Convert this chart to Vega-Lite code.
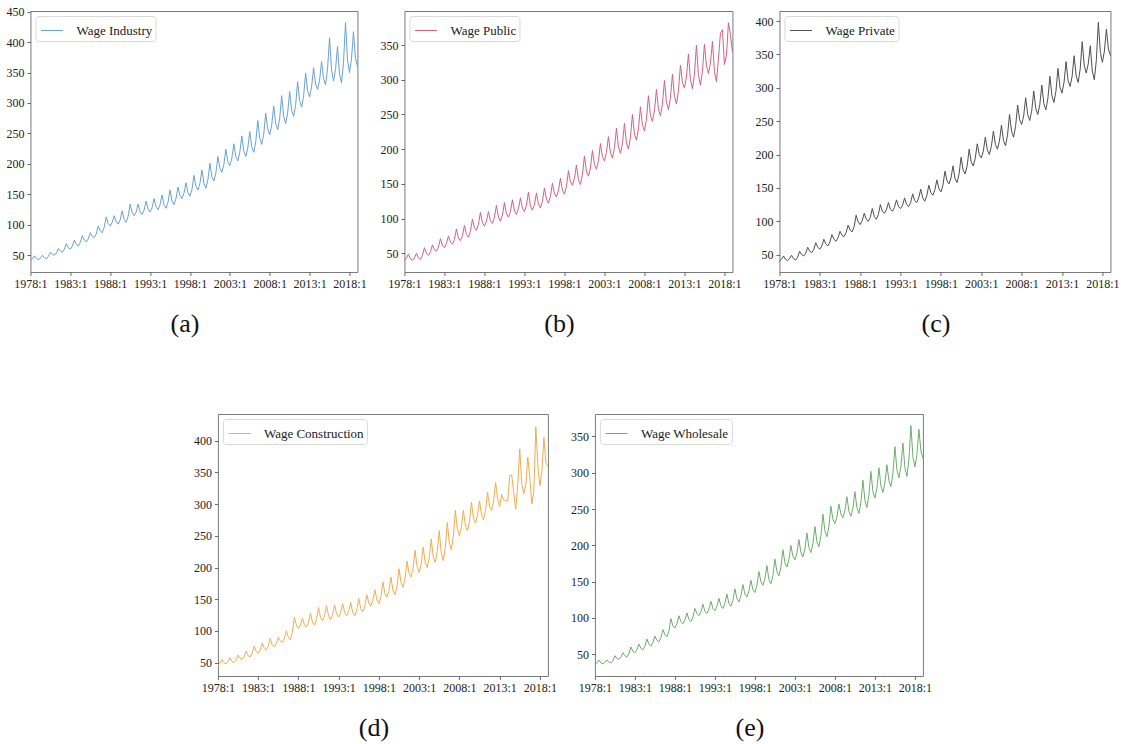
{
"$schema": "https://vega.github.io/schema/vega-lite/v6.json",
"padding": {"left": 5, "top": 5, "right": 5, "bottom": 5},
"background": "white",
"datasets": {"w": [
{"t":1978,"a":42,"b":40,"c":40,"d":46,"e":36},{"t":1978.25,"a":44,"b":43,"c":43,"d":49,"e":38},{"t":1978.5,"a":49,"b":49,"c":48,"d":55,"e":42},{"t":1978.75,"a":45,"b":42,"c":43,"d":50,"e":38},
{"t":1979,"a":43,"b":40,"c":41,"d":48,"e":37},{"t":1979.25,"a":45,"b":43,"c":44,"d":51,"e":39},{"t":1979.5,"a":50,"b":50,"c":49,"d":58,"e":42},{"t":1979.75,"a":46,"b":43,"c":44,"d":52,"e":39},
{"t":1980,"a":44,"b":41,"c":42,"d":50,"e":38},{"t":1980.25,"a":48,"b":47,"c":46,"d":54,"e":41},{"t":1980.5,"a":55,"b":58,"c":55,"d":62,"e":48},{"t":1980.75,"a":51,"b":50,"c":50,"d":57,"e":44},
{"t":1981,"a":50,"b":47,"c":48,"d":55,"e":43},{"t":1981.25,"a":54,"b":52,"c":52,"d":59,"e":46},{"t":1981.5,"a":61,"b":62,"c":61,"d":68,"e":52},{"t":1981.75,"a":57,"b":55,"c":55,"d":61,"e":48},
{"t":1982,"a":55,"b":53,"c":53,"d":59,"e":46},{"t":1982.25,"a":60,"b":59,"c":58,"d":65,"e":51},{"t":1982.5,"a":69,"b":71,"c":68,"d":76,"e":60},{"t":1982.75,"a":62,"b":61,"c":61,"d":68,"e":54},
{"t":1983,"a":60,"b":58,"c":58,"d":65,"e":52},{"t":1983.25,"a":65,"b":64,"c":63,"d":70,"e":56},{"t":1983.5,"a":75,"b":75,"c":73,"d":81,"e":64},{"t":1983.75,"a":68,"b":66,"c":66,"d":73,"e":58},
{"t":1984,"a":65,"b":63,"c":63,"d":70,"e":56},{"t":1984.25,"a":71,"b":70,"c":69,"d":76,"e":61},{"t":1984.5,"a":82,"b":85,"c":80,"d":88,"e":71},{"t":1984.75,"a":75,"b":72,"c":73,"d":78,"e":64},
{"t":1985,"a":72,"b":68,"c":70,"d":75,"e":61},{"t":1985.25,"a":77,"b":75,"c":75,"d":80,"e":66},{"t":1985.5,"a":87,"b":90,"c":85,"d":90,"e":75},{"t":1985.75,"a":81,"b":77,"c":79,"d":84,"e":69},
{"t":1986,"a":79,"b":73,"c":77,"d":82,"e":67},{"t":1986.25,"a":85,"b":82,"c":83,"d":88,"e":73},{"t":1986.5,"a":98,"b":99,"c":94,"d":100,"e":84},{"t":1986.75,"a":90,"b":87,"c":87,"d":90,"e":77},
{"t":1987,"a":87,"b":83,"c":84,"d":86,"e":74},{"t":1987.25,"a":96,"b":92,"c":92,"d":98,"e":82},{"t":1987.5,"a":113,"b":109,"c":109,"d":122,"e":99},{"t":1987.75,"a":102,"b":94,"c":99,"d":109,"e":89},
{"t":1988,"a":98,"b":89,"c":95,"d":104,"e":86},{"t":1988.25,"a":104,"b":96,"c":101,"d":109,"e":92},{"t":1988.5,"a":115,"b":110,"c":112,"d":120,"e":103},{"t":1988.75,"a":105,"b":97,"c":103,"d":110,"e":95},
{"t":1989,"a":101,"b":93,"c":100,"d":106,"e":92},{"t":1989.25,"a":108,"b":102,"c":106,"d":113,"e":97},{"t":1989.5,"a":123,"b":119,"c":119,"d":128,"e":107},{"t":1989.75,"a":109,"b":102,"c":107,"d":114,"e":98},
{"t":1990,"a":104,"b":96,"c":103,"d":109,"e":95},{"t":1990.25,"a":114,"b":105,"c":110,"d":118,"e":101},{"t":1990.5,"a":134,"b":123,"c":125,"d":137,"e":113},{"t":1990.75,"a":120,"b":107,"c":115,"d":121,"e":106},
{"t":1991,"a":115,"b":102,"c":112,"d":116,"e":103},{"t":1991.25,"a":121,"b":110,"c":117,"d":124,"e":108},{"t":1991.5,"a":134,"b":127,"c":128,"d":140,"e":119},{"t":1991.75,"a":121,"b":111,"c":118,"d":124,"e":109},
{"t":1992,"a":117,"b":106,"c":115,"d":118,"e":106},{"t":1992.25,"a":124,"b":114,"c":121,"d":126,"e":112},{"t":1992.5,"a":139,"b":130,"c":132,"d":141,"e":123},{"t":1992.75,"a":126,"b":115,"c":122,"d":127,"e":113},
{"t":1993,"a":121,"b":110,"c":119,"d":122,"e":110},{"t":1993.25,"a":128,"b":119,"c":124,"d":129,"e":116},{"t":1993.5,"a":143,"b":138,"c":135,"d":143,"e":127},{"t":1993.75,"a":130,"b":118,"c":125,"d":129,"e":117},
{"t":1994,"a":125,"b":112,"c":122,"d":124,"e":113},{"t":1994.25,"a":133,"b":120,"c":128,"d":131,"e":120},{"t":1994.5,"a":149,"b":137,"c":141,"d":145,"e":133},{"t":1994.75,"a":133,"b":121,"c":131,"d":129,"e":120},
{"t":1995,"a":127,"b":115,"c":128,"d":124,"e":116},{"t":1995.25,"a":137,"b":125,"c":135,"d":133,"e":124},{"t":1995.5,"a":157,"b":144,"c":148,"d":151,"e":140},{"t":1995.75,"a":139,"b":128,"c":135,"d":135,"e":127},
{"t":1996,"a":133,"b":122,"c":130,"d":130,"e":122},{"t":1996.25,"a":143,"b":132,"c":138,"d":139,"e":130},{"t":1996.5,"a":162,"b":151,"c":154,"d":157,"e":146},{"t":1996.75,"a":148,"b":136,"c":143,"d":144,"e":133},
{"t":1997,"a":143,"b":131,"c":139,"d":139,"e":129},{"t":1997.25,"a":152,"b":140,"c":147,"d":148,"e":137},{"t":1997.5,"a":169,"b":158,"c":162,"d":165,"e":152},{"t":1997.75,"a":153,"b":141,"c":149,"d":149,"e":139},
{"t":1998,"a":147,"b":135,"c":144,"d":143,"e":135},{"t":1998.25,"a":158,"b":146,"c":154,"d":154,"e":145},{"t":1998.5,"a":181,"b":169,"c":175,"d":177,"e":164},{"t":1998.75,"a":163,"b":153,"c":161,"d":159,"e":150},
{"t":1999,"a":157,"b":148,"c":156,"d":153,"e":145},{"t":1999.25,"a":168,"b":158,"c":165,"d":164,"e":154},{"t":1999.5,"a":190,"b":177,"c":183,"d":185,"e":172},{"t":1999.75,"a":168,"b":156,"c":164,"d":164,"e":153},
{"t":2000,"a":160,"b":149,"c":158,"d":157,"e":147},{"t":2000.25,"a":174,"b":163,"c":171,"d":171,"e":158},{"t":2000.5,"a":201,"b":190,"c":196,"d":198,"e":181},{"t":2000.75,"a":179,"b":168,"c":177,"d":176,"e":164},
{"t":2001,"a":172,"b":161,"c":171,"d":169,"e":158},{"t":2001.25,"a":185,"b":173,"c":183,"d":183,"e":170},{"t":2001.5,"a":212,"b":198,"c":208,"d":210,"e":194},{"t":2001.75,"a":193,"b":178,"c":189,"d":191,"e":176},
{"t":2002,"a":186,"b":171,"c":183,"d":185,"e":170},{"t":2002.25,"a":199,"b":183,"c":194,"d":199,"e":180},{"t":2002.5,"a":224,"b":208,"c":216,"d":227,"e":200},{"t":2002.75,"a":204,"b":189,"c":200,"d":201,"e":185},
{"t":2003,"a":197,"b":183,"c":195,"d":192,"e":180},{"t":2003.25,"a":209,"b":195,"c":205,"d":205,"e":189},{"t":2003.5,"a":233,"b":218,"c":226,"d":232,"e":208},{"t":2003.75,"a":212,"b":195,"c":207,"d":208,"e":190},
{"t":2004,"a":205,"b":187,"c":200,"d":200,"e":184},{"t":2004.25,"a":219,"b":201,"c":212,"d":215,"e":195},{"t":2004.5,"a":246,"b":230,"c":235,"d":245,"e":217},{"t":2004.75,"a":221,"b":203,"c":215,"d":217,"e":197},
{"t":2005,"a":212,"b":194,"c":208,"d":208,"e":190},{"t":2005.25,"a":226,"b":208,"c":220,"d":225,"e":202},{"t":2005.5,"a":253,"b":237,"c":244,"d":258,"e":226},{"t":2005.75,"a":228,"b":209,"c":221,"d":223,"e":205},
{"t":2006,"a":219,"b":200,"c":213,"d":211,"e":198},{"t":2006.25,"a":236,"b":217,"c":229,"d":231,"e":213},{"t":2006.5,"a":271,"b":250,"c":260,"d":271,"e":243},{"t":2006.75,"a":242,"b":222,"c":235,"d":239,"e":220},
{"t":2007,"a":232,"b":213,"c":226,"d":228,"e":212},{"t":2007.25,"a":249,"b":229,"c":242,"d":249,"e":226},{"t":2007.5,"a":283,"b":261,"c":274,"d":290,"e":254},{"t":2007.75,"a":257,"b":235,"c":252,"d":260,"e":236},
{"t":2008,"a":248,"b":226,"c":245,"d":250,"e":230},{"t":2008.25,"a":264,"b":243,"c":258,"d":263,"e":239},{"t":2008.5,"a":295,"b":277,"c":285,"d":290,"e":257},{"t":2008.75,"a":266,"b":249,"c":260,"d":266,"e":243},
{"t":2009,"a":256,"b":240,"c":251,"d":258,"e":238},{"t":2009.25,"a":275,"b":255,"c":266,"d":273,"e":248},{"t":2009.5,"a":312,"b":286,"c":295,"d":303,"e":267},{"t":2009.75,"a":278,"b":258,"c":269,"d":278,"e":247},
{"t":2010,"a":266,"b":248,"c":260,"d":270,"e":240},{"t":2010.25,"a":284,"b":265,"c":275,"d":282,"e":251},{"t":2010.5,"a":319,"b":299,"c":304,"d":305,"e":274},{"t":2010.75,"a":288,"b":268,"c":276,"d":283,"e":252},
{"t":2011,"a":278,"b":257,"c":267,"d":275,"e":244},{"t":2011.25,"a":297,"b":274,"c":284,"d":290,"e":259},{"t":2011.5,"a":335,"b":308,"c":317,"d":319,"e":290},{"t":2011.75,"a":304,"b":276,"c":288,"d":297,"e":262},
{"t":2012,"a":293,"b":265,"c":278,"d":290,"e":252},{"t":2012.25,"a":312,"b":284,"c":295,"d":305,"e":269},{"t":2012.5,"a":349,"b":321,"c":329,"d":334,"e":302},{"t":2012.75,"a":320,"b":296,"c":301,"d":309,"e":274},
{"t":2013,"a":310,"b":288,"c":292,"d":296,"e":265},{"t":2013.25,"a":326,"b":304,"c":308,"d":315,"e":279},{"t":2013.5,"a":358,"b":337,"c":339,"d":307,"e":307},{"t":2013.75,"a":331,"b":300,"c":311,"d":305,"e":282},
{"t":2014,"a":322,"b":287,"c":302,"d":305,"e":273},{"t":2014.25,"a":337,"b":308,"c":317,"d":345,"e":286},{"t":2014.5,"a":368,"b":350,"c":348,"d":346,"e":311},{"t":2014.75,"a":340,"b":307,"c":318,"d":318,"e":289},
{"t":2015,"a":330,"b":292,"c":308,"d":292,"e":281},{"t":2015.25,"a":356,"b":312,"c":328,"d":330,"e":299},{"t":2015.5,"a":407,"b":351,"c":369,"d":387,"e":336},{"t":2015.75,"a":354,"b":320,"c":334,"d":332,"e":304},
{"t":2016,"a":336,"b":309,"c":322,"d":316,"e":293},{"t":2016.25,"a":355,"b":324,"c":336,"d":330,"e":309},{"t":2016.5,"a":393,"b":355,"c":363,"d":374,"e":341},{"t":2016.75,"a":348,"b":312,"c":325,"d":342,"e":307},
{"t":2017,"a":333,"b":297,"c":312,"d":300,"e":295},{"t":2017.25,"a":366,"b":330,"c":341,"d":320,"e":318},{"t":2017.5,"a":432,"b":367,"c":398,"d":422,"e":365},{"t":2017.75,"a":371,"b":372,"c":353,"d":360,"e":322},
{"t":2018,"a":350,"b":322,"c":338,"d":329,"e":308},{"t":2018.25,"a":372,"b":335,"c":355,"d":350,"e":325},{"t":2018.5,"a":417,"b":382,"c":388,"d":405,"e":360},{"t":2018.75,"a":374,"b":365,"c":358,"d":365,"e":330},
{"t":2019,"a":360,"b":340,"c":348,"d":359,"e":320}
]},
"config": {
  "view": {"stroke": "#7a7a7a", "strokeWidth": 1},
  "axis": {"labelFont": "Liberation Serif, DejaVu Serif, serif", "labelFontSize": 12, "labelColor": "#222", "tickColor": "#444", "tickSize": 3.5, "tickWidth": 0.8, "domain": false, "grid": false, "labelPadding": 3, "labelFlush": false, "labelOverlap": false},
  "legend": {"orient": "top-left", "offset": 5, "padding": 3, "strokeColor": "#d9d9d9", "cornerRadius": 3, "fillColor": "white", "symbolType": "stroke", "symbolSize": 484, "symbolStrokeWidth": 1, "symbolOffset": 2, "labelFont": "Liberation Serif, DejaVu Serif, serif", "labelFontSize": 13, "labelColor": "#222", "labelOffset": 13},
  "title": {"orient": "bottom", "fontSize": 26, "font": "Liberation Serif, DejaVu Serif, serif", "fontWeight": "normal", "color": "#111", "offset": 21, "anchor": "middle", "dx": -9},
  "line": {"strokeWidth": 1}
},
"vconcat": [
 {"hconcat": [
  {"width": 327, "height": 261, "data": {"name": "w"}, "title": "(a)", "mark": "line",
   "encoding": {
    "x": {"field": "t", "type": "quantitative", "scale": {"domain": [1978, 2019], "nice": false, "zero": false}, "axis": {"values": [1978,1983,1988,1993,1998,2003,2008,2013,2018], "labelExpr": "datum.value + ':1'", "title": null}},
    "y": {"field": "a", "type": "quantitative", "scale": {"domain": [22.5, 451], "nice": false, "zero": false}, "axis": {"values": [50,100,150,200,250,300,350,400,450], "title": null}},
    "color": {"datum": "Wage Industry", "scale": {"range": ["#67a3d2"]}, "legend": {"title": null}}}},
  {"width": 328, "height": 261, "data": {"name": "w"}, "title": "(b)", "mark": "line",
   "encoding": {
    "x": {"field": "t", "type": "quantitative", "scale": {"domain": [1978, 2019], "nice": false, "zero": false}, "axis": {"values": [1978,1983,1988,1993,1998,2003,2008,2013,2018], "labelExpr": "datum.value + ':1'", "title": null}},
    "y": {"field": "b", "type": "quantitative", "scale": {"domain": [23, 399], "nice": false, "zero": false}, "axis": {"values": [50,100,150,200,250,300,350], "title": null}},
    "color": {"datum": "Wage Public", "scale": {"range": ["#d95f84"]}, "legend": {"title": null}}}},
  {"width": 331, "height": 261, "data": {"name": "w"}, "title": "(c)", "mark": "line",
   "encoding": {
    "x": {"field": "t", "type": "quantitative", "scale": {"domain": [1978, 2019], "nice": false, "zero": false}, "axis": {"values": [1978,1983,1988,1993,1998,2003,2008,2013,2018], "labelExpr": "datum.value + ':1'", "title": null}},
    "y": {"field": "c", "type": "quantitative", "scale": {"domain": [24, 415], "nice": false, "zero": false}, "axis": {"values": [50,100,150,200,250,300,350,400], "title": null}},
    "color": {"datum": "Wage Private", "scale": {"range": ["#505050"]}, "legend": {"title": null}}}}
 ], "spacing": 12, "resolve": {"scale": {"color": "independent"}, "legend": {"color": "independent"}}},
 {"hconcat": [
  {"width": 330, "height": 262, "data": {"name": "w"}, "title": "(d)", "mark": "line",
   "encoding": {
    "x": {"field": "t", "type": "quantitative", "scale": {"domain": [1978, 2019], "nice": false, "zero": false}, "axis": {"values": [1978,1983,1988,1993,1998,2003,2008,2013,2018], "labelExpr": "datum.value + ':1'", "title": null}},
    "y": {"field": "d", "type": "quantitative", "scale": {"domain": [29, 442], "nice": false, "zero": false}, "axis": {"values": [50,100,150,200,250,300,350,400], "title": null}},
    "color": {"datum": "Wage Construction", "scale": {"range": ["#f5ac4c"]}, "legend": {"title": null}}}},
  {"width": 328, "height": 262, "data": {"name": "w"}, "title": "(e)", "mark": "line",
   "encoding": {
    "x": {"field": "t", "type": "quantitative", "scale": {"domain": [1978, 2019], "nice": false, "zero": false}, "axis": {"values": [1978,1983,1988,1993,1998,2003,2008,2013,2018], "labelExpr": "datum.value + ':1'", "title": null}},
    "y": {"field": "e", "type": "quantitative", "scale": {"domain": [20, 381], "nice": false, "zero": false}, "axis": {"values": [50,100,150,200,250,300,350], "title": null}},
    "color": {"datum": "Wage Wholesale", "scale": {"range": ["#6cb06c"]}, "legend": {"title": null}}}}
 ], "spacing": 12, "resolve": {"scale": {"color": "independent"}, "legend": {"color": "independent"}}}
],
"spacing": 76,
"center": true,
"resolve": {"scale": {"color": "independent"}, "legend": {"color": "independent"}}
}
